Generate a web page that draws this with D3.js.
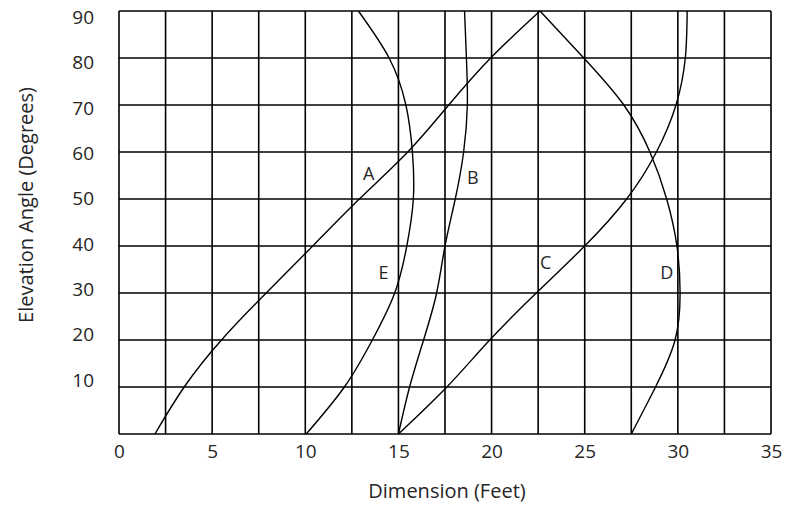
<!DOCTYPE html>
<html>
<head>
<meta charset="utf-8">
<script src="https://cdn.jsdelivr.net/npm/d3@7"></script>
<style>
  html, body { margin: 0; padding: 0; background: #fff; }
  svg { display: block; }
  text { font-family: "Open Sans", "Noto Sans", sans-serif; fill: #262626; }
</style>
</head>
<body>
<svg id="chart" width="788" height="505"></svg>
<script>
// ---- data ----
const xTicks = [0, 5, 10, 15, 20, 25, 30, 35];
const yTicks = [10, 20, 30, 40, 50, 60, 70, 80, 90];
const xGrid = d3.range(0, 35.01, 2.5);
const yGrid = d3.range(0, 90.01, 10);

// each curve: [dimension, angle]
const curveA = [[1.93,0],[3.5,10],[5.5,20],[7.9,30],[10.4,40],[12.9,50],[15.5,60],[17.7,70],[19.95,80],[22.6,90]];
const curveB = [[15.0,0],[15.6,10],[16.35,20],[17.05,30],[17.5,40],[18.05,50],[18.5,60],[18.7,70],[18.65,80],[18.55,90]];
const curveC = [[15.0,0],[17.6,10],[19.9,20],[22.4,30],[25.0,40],[27.25,50],[28.85,60],[29.9,70],[30.4,80],[30.5,90]];
const curveD = [[22.6,90],[24.95,80],[27.1,70],[28.5,60],[29.4,50],[29.95,40],[30.12,30],[29.85,20],[28.8,10],[27.5,0]];
const curveE = [[10.05,0],[12.1,10],[13.6,20],[14.8,30],[15.45,40],[15.8,50],[15.75,60],[15.4,70],[14.5,80],[12.85,90]];
const curves = [curveA, curveB, curveC, curveD, curveE];

const labelNames = ["A", "B", "C", "D", "E"];
const labelPos = [[13.4,55.5],[19.0,54.7],[22.9,36.6],[29.4,34.4],[14.2,34.4]];

// ---- layout ----
const svg = d3.select("#chart");
const x = d3.scaleLinear().domain([0, 35]).range([119, 771]);
const y = d3.scaleLinear().domain([0, 90]).range([434, 11]);
const yLab = d3.scaleLinear().domain([10, 90]).range([380, 17.5]);

// grid
svg.append("g").selectAll("line").data(xGrid).join("line")
  .attr("x1", d => x(d)).attr("x2", d => x(d))
  .attr("y1", y(0)).attr("y2", y(90))
  .attr("stroke", "#000").attr("stroke-width", 1.6);
svg.append("g").selectAll("line").data(yGrid).join("line")
  .attr("x1", x(0)).attr("x2", x(35))
  .attr("y1", d => y(d)).attr("y2", d => y(d))
  .attr("stroke", "#000").attr("stroke-width", 1.6);

// curves
const line = d3.line().x(d => x(d[0])).y(d => y(d[1])).curve(d3.curveNatural);
svg.append("g").selectAll("path").data(curves).join("path")
  .attr("d", line)
  .attr("fill", "none").attr("stroke", "#000").attr("stroke-width", 1.4);

// curve labels
svg.append("g").selectAll("text").data(labelNames).join("text")
  .attr("x", (d, i) => x(labelPos[i][0]))
  .attr("y", (d, i) => y(labelPos[i][1]))
  .attr("text-anchor", "middle").attr("dominant-baseline", "central")
  .attr("font-size", 18)
  .text(d => d);

// x axis labels
const xAxis = d3.axisBottom(x).tickValues(xTicks).tickSize(0).tickPadding(0);
const gx = svg.append("g").attr("transform", "translate(0,442)").call(xAxis);
gx.select(".domain").remove();
gx.selectAll("text").attr("font-size", 19).attr("font-family", null).attr("fill", null).attr("dy", "0.85em");

// y axis labels
const yAxis = d3.axisLeft(yLab).tickValues(yTicks).tickSize(0).tickPadding(0);
const gy = svg.append("g").attr("transform", "translate(94,0)").call(yAxis);
gy.select(".domain").remove();
gy.selectAll("text").attr("font-size", 19).attr("font-family", null).attr("fill", null);

// axis titles
svg.append("text").attr("x", 447).attr("y", 490)
  .attr("text-anchor", "middle").attr("dominant-baseline", "central")
  .attr("font-size", 20).text("Dimension (Feet)");
svg.append("text").attr("transform", "translate(25,205) rotate(-90)")
  .attr("text-anchor", "middle").attr("dominant-baseline", "central")
  .attr("font-size", 20).text("Elevation Angle (Degrees)");
</script>
</body>
</html>
